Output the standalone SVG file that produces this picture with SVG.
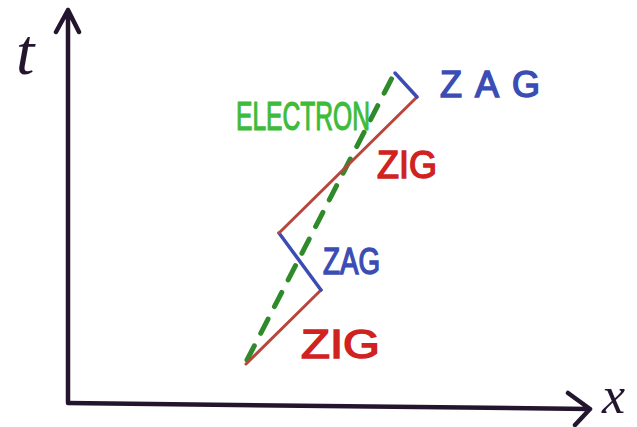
<svg xmlns="http://www.w3.org/2000/svg" width="637" height="427" viewBox="0 0 637 427">
<style>
.ax{stroke:#24152f;stroke-width:4.5;fill:none;stroke-linecap:round;stroke-linejoin:round}
.zig{stroke:#b8463c;stroke-width:3;fill:none;stroke-linecap:round}
.zag{stroke:#3b4db5;stroke-width:3.5;fill:none;stroke-linecap:round}
.el{stroke:#2f8a2a;stroke-width:5;fill:none;stroke-dasharray:16 14;stroke-linecap:round}
text{font-family:"Liberation Sans","DejaVu Sans",sans-serif}
.tz{fill:#3b4db5;stroke:#3b4db5;stroke-width:1.5}
.tr{fill:#d0231f;stroke:#d0231f;stroke-width:1.5}
.tg{fill:#3dbb3a;stroke:#3dbb3a;stroke-width:1.2}
.lab{fill:#24152f;font-family:"Liberation Serif",serif;font-style:italic}
</style>
<rect width="637" height="427" fill="#fff"/>
<g id="axes">
<path class="ax" d="M68,402 L68,10 M56,32 L68,10 L79,32"/>
<path class="ax" d="M68,403 L590,409 M568,393 L590,409 L575,425"/>
<text class="lab" x="16" y="74" font-size="66">t</text>
<text class="lab" x="602" y="413" font-size="52">x</text>
</g>
<g id="connectors">
<path class="el" d="M247,360 L393,76"/>
<path class="zig" d="M246,364 L321,290"/>
<path class="zag" d="M321,290 L279,233"/>
<path class="zig" d="M279,233 L417,97"/>
<path class="zag" d="M417,97 L395,73"/>
</g>
<g id="labels">
<text class="tz" x="440" y="97" font-size="36" textLength="100" lengthAdjust="spacing">ZAG</text>
<text class="tg" x="236" y="130" font-size="40" textLength="134" lengthAdjust="spacingAndGlyphs">ELECTRON</text>
<text class="tr" x="377" y="178" font-size="38" textLength="60" lengthAdjust="spacingAndGlyphs">ZIG</text>
<text class="tz" x="323" y="274" font-size="36" textLength="57" lengthAdjust="spacingAndGlyphs">ZAG</text>
<text class="tr" x="301" y="358" font-size="40" textLength="79" lengthAdjust="spacingAndGlyphs">ZIG</text>
</g>
</svg>
